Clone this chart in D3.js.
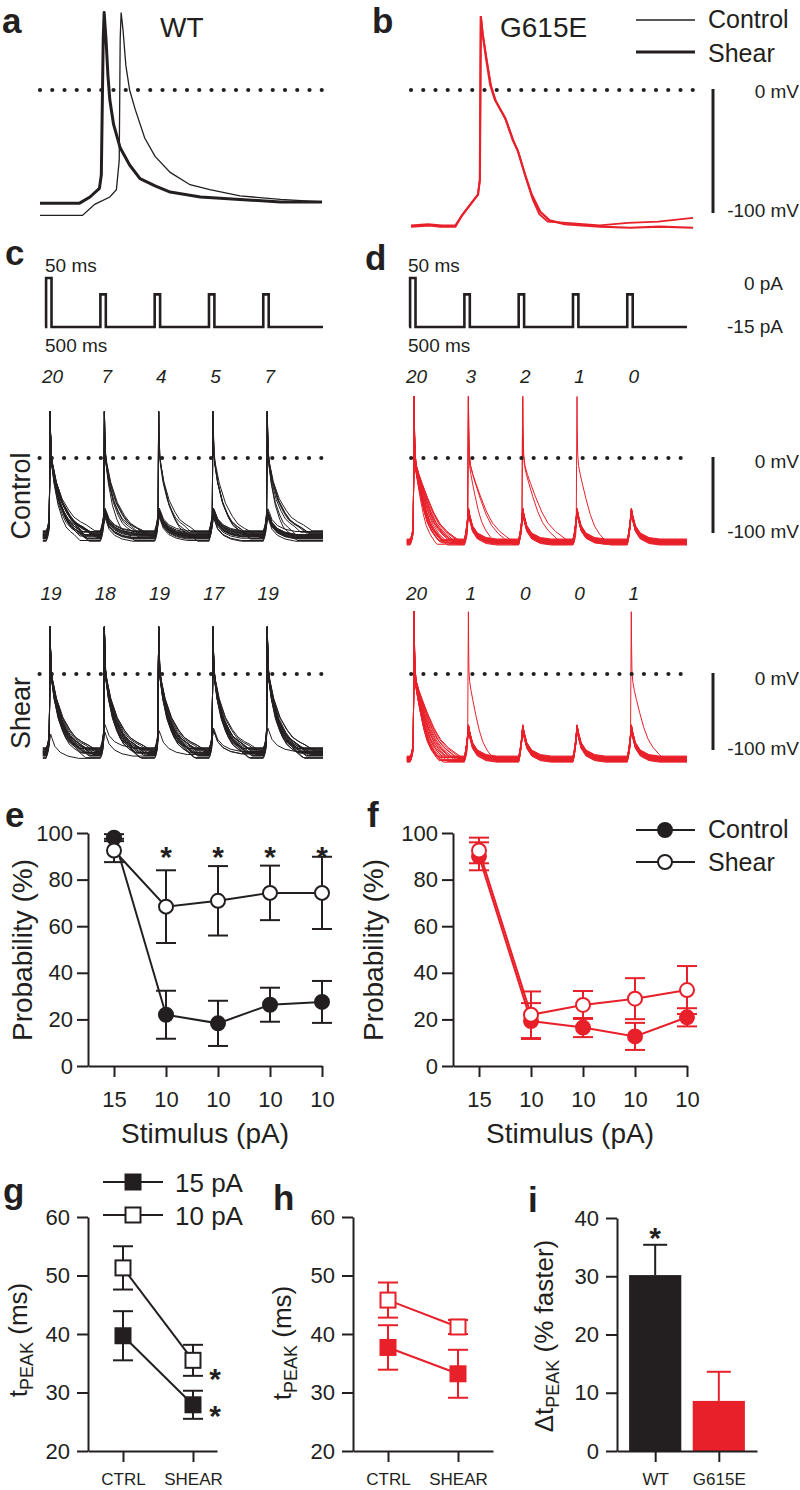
<!DOCTYPE html>
<html><head><meta charset="utf-8">
<script src="https://cdn.jsdelivr.net/npm/d3@7"></script>
<style>
body{margin:0;background:#fff;}
svg text{font-family:Arial,"Liberation Sans",Helvetica,sans-serif;fill:#231f20;}
</style></head><body>
<svg id="fig" width="800" height="1490"></svg>
<script>
// ================= DATA =================
// Panel a / b : single action potentials [time (ms), membrane potential (mV)]
const wtControlAP = [[0,-102],[45,-102],[58,-93],[74,-87],[81,-81],[84,-57],[85,41],[86,63],[88,49],[91,20],[95,0],[101,-16],[111,-39],[122,-54],[138,-67],[159,-77],[180,-81],[212,-86],[255,-89],[299,-91]];
const wtShearAP = [[0,-92],[42,-92],[53,-87],[63,-80],[65,-69],[67,41],[68,63],[70,41],[72,12],[74,-8],[78,-28],[85,-47],[95,-61],[106,-72],[122,-78],[138,-83],[170,-87],[212,-89],[255,-91],[299,-91]];
const mutShearAP = [[0,-111],[20,-110],[31,-111],[47,-111],[54,-102],[63,-93],[71,-85],[73,-73],[74,60],[76,45],[80,24],[84,4],[89,-8],[100,-23],[108,-41],[113,-49],[121,-69],[128,-85],[137,-99],[147,-106],[163,-109],[200,-111],[232,-112],[264,-111],[299,-112]];
const mutControlAP = [[0,-110],[18,-109],[33,-110],[47,-110],[55,-101],[64,-92],[71,-85],[73,-73],[74,60],[76,46],[80,26],[85,3],[90,-9],[101,-25],[109,-42],[114,-51],[122,-72],[129,-89],[136,-101],[145,-107],[165,-108],[200,-110],[230,-108],[262,-107],[299,-104]];

// Panel c / d : stimulation protocol
const pulseOnsets = [10, 510, 1010, 1510, 2010];   // ms
const pulseWidth = 50;                             // ms
const holdingCurrent = -15;                        // pA
const pulseSteps = [15, 10, 10, 10, 10];           // pA
const protocolEnd = 2560;                          // ms

// spikes fired per stimulus (out of 20 sweeps)
const wtCtrlCounts  = [20, 7, 4, 5, 7];
const wtShearCounts = [19, 18, 19, 17, 19];
const mutCtrlCounts = [20, 3, 2, 1, 0];
const mutShearCounts= [20, 1, 0, 0, 1];
// which sweeps fired at each stimulus
const wtCtrlFired  = [[0,1,2,3,4,5,6,7,8,9,10,11,12,13,14,15,16,17,18,19],[0,2,5,8,11,14,17],[1,6,12,18],[3,7,10,15,19],[0,4,9,11,13,16,18]];
const wtShearFired = [[0,1,2,3,4,5,6,8,9,10,11,12,13,14,15,16,17,18,19],[0,1,2,4,5,6,7,8,9,10,11,13,14,15,16,17,18,19],[0,1,2,3,4,5,6,7,8,10,11,12,13,14,15,16,17,18,19],[0,1,3,4,6,7,8,9,10,11,12,13,15,16,17,18,19],[0,1,2,3,4,5,6,7,8,9,10,11,12,13,14,15,17,18,19]];
const mutCtrlFired = [[0,1,2,3,4,5,6,7,8,9,10,11,12,13,14,15,16,17,18,19],[2,9,15],[4,11],[7],[]];
const mutShearFired= [[0,1,2,3,4,5,6,7,8,9,10,11,12,13,14,15,16,17,18,19],[6],[],[],[10]];

// waveform shapes read from the sweeps [ms after pulse onset, mV]
const wtSpikeShape = [[0,-104],[12,-100],[24,-92],[30,-80],[33,-20],[37,62],[40,35],[46,5],[55,-8],[83,-33],[129,-59],[180,-76],[221,-86],[270,-92],[313,-96],[380,-104]];
const wtBumpShape  = [[0,-104],[15,-96],[30,-84],[42,-73],[55,-78],[80,-88],[130,-96],[200,-101],[300,-104]];
const mutSpikeShape= [[0,-112],[12,-108],[24,-100],[30,-88],[33,-10],[37,82],[40,40],[45,5],[55,-10],[75,-22],[100,-34],[140,-52],[190,-72],[240,-87],[300,-98],[380,-108],[420,-112]];
const mutBumpShape = [[0,-112],[12,-104],[25,-90],[38,-70],[50,-80],[75,-94],[120,-104],[200,-110],[300,-112]];
// per-sweep baseline shift (mV) and decay stretch
const wtSweepOffset = [-6,-3,0,2,4,-1,6,-4,1,3,-2,5,-7,0,2,-3,7,-1,4,1];
const wtSweepDecay  = [0.8,1.0,1.2,0.9,1.1,1.3,0.85,1.0,0.95,1.15,1.25,0.9,1.05,0.8,1.1,1.0,1.2,0.9,1.05,0.95];
const mutSweepOffset= [-3,-1,0,2,1,-2,3,-4,1,2,-1,0,3,-2,1,-3,2,0,-1,4];
const mutSweepDecay = [0.55,0.7,1.1,0.6,0.9,1.2,0.65,0.8,1.0,0.6,0.75,1.15,0.7,0.85,0.6,1.05,0.7,0.95,0.65,0.8];

// Panel e / f : firing probability (%)
const stimCategories = ["15","10","10","10","10"];
const wtProbCtrl      = [98, 22, 18.3, 26.3, 27.5];
const wtProbCtrlSem   = [1.5, 10.3, 9.7, 7.3, 9.0];
const wtProbShear     = [92.5, 68.4, 70.9, 74.3, 74.3];
const wtProbShearSem  = [5.0, 15.6, 14.9, 11.7, 15.5];
const mutProbCtrl     = [90, 19.3, 16.5, 12.7, 20.9];
const mutProbCtrlSem  = [6, 7.7, 4.1, 5.8, 3.9];
const mutProbShear    = [92.5, 22, 26.2, 28.9, 32.6];
const mutProbShearSem = [5.5, 10, 6, 8.8, 10.3];
const wtProbSignificant = [false, true, true, true, true];

// Panel g / h : tPEAK (ms)
const conditionCats = ["CTRL","SHEAR"];
const wtTpeak15 = [39.7, 27.9];  const wtTpeak15Sem = [4.2, 2.4];
const wtTpeak10 = [51.3, 35.5];  const wtTpeak10Sem = [3.7, 2.65];
const mutTpeak15 = [37.7, 33.2]; const mutTpeak15Sem = [3.8, 4.1];
const mutTpeak10 = [45.8, 41.2]; const mutTpeak10Sem = [3.0, 1.2];
const wtTpeakSignificant = [false, true];

// Panel i : ΔtPEAK (% faster)
const genotypeCats = ["WT","G615E"];
const deltaTpeak = [30.2, 8.6];
const deltaTpeakSem = [5.2, 5.0];
const deltaSignificant = [true, false];

// ================= DRAWING =================
const INK = "#231f20", RED = "#e8202a";
const FONT = 'Arial, "Liberation Sans", Helvetica, sans-serif';
const svg = d3.select("#fig");

function text(x, y, s, fs, o = {}) {
  const t = svg.append("text").attr("x", x).attr("y", y).text(s).style("font-size", fs + "px");
  if (o.anchor) t.attr("text-anchor", o.anchor);
  if (o.bold) t.style("font-weight", "bold");
  if (o.italic) t.style("font-style", "italic");
  if (o.rotate) t.attr("x", null).attr("y", null).attr("transform", `translate(${x},${y}) rotate(-90)`);
  if (o.fill) t.style("fill", o.fill);
  return t;
}
function mkLine(xs, ys) { return d3.line().x(d => xs(d[0])).y(d => ys(d[1])); }
function dotted(xs, ys, t0, t1) {
  svg.append("path").attr("d", mkLine(xs, ys)([[t0, 0], [t1, 0]]))
    .attr("stroke", INK).attr("stroke-width", 4.2).attr("stroke-linecap", "round")
    .attr("stroke-dasharray", "0,12.25").attr("fill", "none");
}
function scaleBar(ys, x) {
  svg.append("line").attr("x1", x).attr("x2", x).attr("y1", ys(0) - 1).attr("y2", ys(-100))
    .attr("stroke", INK).attr("stroke-width", 3);
}

// panel letters
[["a",2,33],["b",372,33],["c",5,265],["d",365,270],["e",5,827],["f",367,827],["g",3,1203],["h",273,1210],["i",528,1212]]
  .forEach(([s,x,y]) => text(x, y, s, 35, {bold: true}));

// ---- a / b ----
const xA = d3.scaleLinear().domain([0, 300]).range([40, 323]);
const xB = d3.scaleLinear().domain([0, 300]).range([411, 694]);
const yA = d3.scaleLinear().domain([-100, 0]).range([213, 90]);
dotted(xA, yA, 0, 299);
dotted(xB, yA, 0, 299);
svg.append("path").attr("d", mkLine(xA, yA)(wtControlAP)).attr("fill","none").attr("stroke",INK).attr("stroke-width",1.3);
svg.append("path").attr("d", mkLine(xA, yA)(wtShearAP)).attr("fill","none").attr("stroke",INK).attr("stroke-width",3).attr("stroke-linejoin","round");
svg.append("path").attr("d", mkLine(xB, yA)(mutControlAP)).attr("fill","none").attr("stroke",RED).attr("stroke-width",1.8);
svg.append("path").attr("d", mkLine(xB, yA)(mutShearAP)).attr("fill","none").attr("stroke",RED).attr("stroke-width",2.2);
text(160, 37, "WT", 28);
text(500, 37, "G615E", 28);
svg.append("line").attr("x1",636).attr("x2",695).attr("y1",20).attr("y2",20).attr("stroke",INK).attr("stroke-width",1.3);
svg.append("line").attr("x1",636).attr("x2",695).attr("y1",52).attr("y2",52).attr("stroke",INK).attr("stroke-width",3);
text(708, 28, "Control", 25);
text(708, 62, "Shear", 25);
scaleBar(yA, 713);
text(799, 98, "0 mV", 19, {anchor: "end"});
text(799, 217, "-100 mV", 19, {anchor: "end"});

// ---- c / d protocol ----
const xC = d3.scaleLinear().domain([0, protocolEnd]).range([45, 323]);
const xD = d3.scaleLinear().domain([0, protocolEnd]).range([409, 687]);
const yStim = d3.scaleLinear().domain([-15, 0]).range([327, 278]);
function protocolPoints() {
  const p = [[0, holdingCurrent]];
  pulseOnsets.forEach((on, k) => {
    const lvl = holdingCurrent + pulseSteps[k];
    p.push([on, holdingCurrent], [on, lvl], [on + pulseWidth, lvl], [on + pulseWidth, holdingCurrent]);
  });
  p.push([protocolEnd, holdingCurrent]);
  return p;
}
[xC, xD].forEach(xs => {
  svg.append("path").attr("d", mkLine(xs, yStim)(protocolPoints())).attr("fill","none")
    .attr("stroke", INK).attr("stroke-width", 2.6).attr("stroke-linejoin","miter");
});
text(45, 272, "50 ms", 19); text(45, 352, "500 ms", 19);
text(408, 272, "50 ms", 19); text(408, 352, "500 ms", 19);
text(783, 290, "0 pA", 19, {anchor: "end"});
text(783, 333, "-15 pA", 19, {anchor: "end"});

// ---- sweeps ----
const yCtrl = d3.scaleLinear().domain([-100, 0]).range([533, 458]);
const yShear = d3.scaleLinear().domain([-100, 0]).range([750, 674]);
function buildSweep(idx, fired, spike, bump, offsets, decays) {
  const pkT = 37, off = offsets[idx], s = decays[idx];
  const w = v => Math.max(0, Math.min(1, (-v - 20) / 60));
  const base = spike[0][1];
  const pts = [[-20, base + off]];
  pulseOnsets.forEach((on, k) => {
    const fire = fired[k].includes(idx);
    (fire ? spike : bump).forEach(([dt, v]) => {
      const t = (fire && dt > pkT) ? pkT + (dt - pkT) * s : dt;
      pts.push([on + t, v + off * w(v)]);
    });
  });
  pts.push([protocolEnd, base + off]);
  return pts;
}
function drawSweeps(xs, ys, fired, spike, bump, offsets, decays, color) {
  const g = svg.append("g");
  d3.range(20).forEach(i => {
    g.append("path").attr("d", mkLine(xs, ys)(buildSweep(i, fired, spike, bump, offsets, decays)))
      .attr("fill","none").attr("stroke", color).attr("stroke-width", 1).attr("stroke-linejoin","round");
  });
}
drawSweeps(xC, yCtrl, wtCtrlFired, wtSpikeShape, wtBumpShape, wtSweepOffset, wtSweepDecay, INK);
drawSweeps(xC, yShear, wtShearFired, wtSpikeShape, wtBumpShape, wtSweepOffset.slice().reverse(), wtSweepDecay, INK);
drawSweeps(xD, yCtrl, mutCtrlFired, mutSpikeShape, mutBumpShape, mutSweepOffset, mutSweepDecay, RED);
drawSweeps(xD, yShear, mutShearFired, mutSpikeShape, mutBumpShape, mutSweepOffset.slice().reverse(), mutSweepDecay, RED);
dotted(xC, yCtrl, -50, 2560); dotted(xD, yCtrl, 20, 2580);
dotted(xC, yShear, -50, 2560); dotted(xD, yShear, 20, 2580);
// counts
pulseOnsets.forEach((on, k) => {
  text(xC(on + 60), 383, wtCtrlCounts[k], 19, {anchor: "middle", italic: true});
  text(xD(on + 60), 383, mutCtrlCounts[k], 19, {anchor: "middle", italic: true});
  text(xC(on + 45), 600, wtShearCounts[k], 19, {anchor: "middle", italic: true});
  text(xD(on + 60), 600, mutShearCounts[k], 19, {anchor: "middle", italic: true});
});
text(30, 496, "Control", 27, {anchor: "middle", rotate: true});
text(30, 713, "Shear", 27, {anchor: "middle", rotate: true});
scaleBar(yCtrl, 713); scaleBar(yShear, 713);
text(799, 468, "0 mV", 19, {anchor: "end"});
text(799, 538, "-100 mV", 19, {anchor: "end"});
text(799, 685, "0 mV", 19, {anchor: "end"});
text(799, 755, "-100 mV", 19, {anchor: "end"});

// ---- axes helper ----
function styleAxis(g, fs) {
  g.attr("font-family", FONT).attr("font-size", fs);
  g.select(".domain").attr("stroke", INK).attr("stroke-width", 2);
  g.selectAll(".tick line").attr("stroke", INK).attr("stroke-width", 2);
  g.selectAll(".tick text").attr("fill", INK);
}
function errorBars(xs, ys, means, sems, color, cap) {
  means.forEach((m, i) => {
    const x = xs(i);
    svg.append("line").attr("x1", x).attr("x2", x).attr("y1", ys(m - sems[i])).attr("y2", ys(m + sems[i])).attr("stroke", color).attr("stroke-width", 2);
    [m - sems[i], m + sems[i]].forEach(v => svg.append("line").attr("x1", x - cap / 2).attr("x2", x + cap / 2).attr("y1", ys(v)).attr("y2", ys(v)).attr("stroke", color).attr("stroke-width", 2));
  });
}
function series(xs, ys, means, sems, color, open, shape) {
  svg.append("path").attr("d", d3.line().x((d, i) => xs(i)).y(d => ys(d))(means)).attr("fill","none").attr("stroke", color).attr("stroke-width", 2);
  errorBars(xs, ys, means, sems, color, 20);
  means.forEach((m, i) => {
    if (shape === "circle") {
      svg.append("circle").attr("cx", xs(i)).attr("cy", ys(m)).attr("r", 7).attr("fill", open ? "#fff" : color).attr("stroke", color).attr("stroke-width", 2);
    } else {
      svg.append("rect").attr("x", xs(i) - 7.5).attr("y", ys(m) - 7.5).attr("width", 15).attr("height", 15).attr("fill", open ? "#fff" : color).attr("stroke", color).attr("stroke-width", 2);
    }
  });
}

// ---- e / f ----
const yP = d3.scaleLinear().domain([0, 100]).range([1066, 833]);
const xE = d3.scaleLinear().domain([-0.5, 4]).range([88, 322]);
const xF = d3.scaleLinear().domain([-0.5, 4]).range([453, 687]);
[[xE, 88], [xF, 453]].forEach(([xs, x0]) => {
  styleAxis(svg.append("g").attr("transform", `translate(${x0},0)`)
    .call(d3.axisLeft(yP).tickValues([0,20,40,60,80,100]).tickSize(11).tickSizeOuter(0).tickPadding(4)), 22);
  styleAxis(svg.append("g").attr("transform", `translate(0,1066)`)
    .call(d3.axisBottom(xs).tickValues([0,1,2,3,4]).tickFormat(i => stimCategories[i]).tickSize(11).tickSizeOuter(0).tickPadding(14)), 22);
});
series(xE, yP, wtProbCtrl, wtProbCtrlSem, INK, false, "circle");
series(xE, yP, wtProbShear, wtProbShearSem, INK, true, "circle");
series(xF, yP, mutProbCtrl, mutProbCtrlSem, RED, false, "circle");
series(xF, yP, mutProbShear, mutProbShearSem, RED, true, "circle");
wtProbSignificant.forEach((s, i) => { if (s) text(xE(i), yP(100) + 34, "*", 30, {anchor: "middle", bold: true}); });
text(32, 950, "Probability (%)", 28, {anchor: "middle", rotate: true});
text(383, 950, "Probability (%)", 28, {anchor: "middle", rotate: true});
text(205, 1143, "Stimulus (pA)", 28, {anchor: "middle"});
text(570, 1143, "Stimulus (pA)", 28, {anchor: "middle"});
// legend f
svg.append("line").attr("x1",636).attr("x2",695).attr("y1",830).attr("y2",830).attr("stroke",INK).attr("stroke-width",2);
svg.append("circle").attr("cx",665).attr("cy",830).attr("r",7).attr("fill",INK).attr("stroke",INK).attr("stroke-width",2);
svg.append("line").attr("x1",636).attr("x2",695).attr("y1",862).attr("y2",862).attr("stroke",INK).attr("stroke-width",2);
svg.append("circle").attr("cx",665).attr("cy",862).attr("r",7).attr("fill","#fff").attr("stroke",INK).attr("stroke-width",2);
text(708, 838, "Control", 25);
text(708, 871, "Shear", 25);

// ---- g / h ----
const yT = d3.scaleLinear().domain([20, 60]).range([1451, 1217]);
const xG = d3.scaleLinear().domain([-0.5, 1.343]).range([88, 217]);
const xH = d3.scaleLinear().domain([-0.5, 1.5]).range([353, 493]);
[[xG, 88], [xH, 353]].forEach(([xs, x0]) => {
  styleAxis(svg.append("g").attr("transform", `translate(${x0},0)`)
    .call(d3.axisLeft(yT).tickValues([20,30,40,50,60]).tickSize(11).tickSizeOuter(0).tickPadding(7)), 22);
  styleAxis(svg.append("g").attr("transform", `translate(0,1451)`)
    .call(d3.axisBottom(xs).tickValues([0,1]).tickFormat(i => conditionCats[i]).tickSize(11).tickSizeOuter(0).tickPadding(11)), 17);
});
series(xG, yT, wtTpeak15, wtTpeak15Sem, INK, false, "square");
series(xG, yT, wtTpeak10, wtTpeak10Sem, INK, true, "square");
series(xH, yT, mutTpeak15, mutTpeak15Sem, RED, false, "square");
series(xH, yT, mutTpeak10, mutTpeak10Sem, RED, true, "square");
[[wtTpeak10, 12], [wtTpeak15, 4]].forEach(([m, dy]) => {
  if (wtTpeakSignificant[1]) text(xG(1) + 22, yT(m[1]) + dy + 17, "*", 30, {anchor: "middle", bold: true});
});
// legend g
svg.append("line").attr("x1",103).attr("x2",163).attr("y1",1182).attr("y2",1182).attr("stroke",INK).attr("stroke-width",2);
svg.append("rect").attr("x",125.5).attr("y",1174.5).attr("width",15).attr("height",15).attr("fill",INK).attr("stroke",INK).attr("stroke-width",2);
svg.append("line").attr("x1",103).attr("x2",163).attr("y1",1215).attr("y2",1215).attr("stroke",INK).attr("stroke-width",2);
svg.append("rect").attr("x",125.5).attr("y",1207.5).attr("width",15).attr("height",15).attr("fill","#fff").attr("stroke",INK).attr("stroke-width",2);
text(175, 1192, "15 pA", 26);
text(175, 1225, "10 pA", 26);
function tpeakLabel(x, y, prefix, suffix, fs) {
  const t = svg.append("text").attr("transform", `translate(${x},${y}) rotate(-90)`).attr("text-anchor","middle").style("font-size", fs + "px");
  t.append("tspan").text(prefix);
  t.append("tspan").attr("dy", 6).style("font-size", "18px").text("PEAK");
  t.append("tspan").attr("dy", -6).text(suffix);
}
tpeakLabel(27, 1340, "t", " (ms)", 26);
tpeakLabel(291, 1343, "t", " (ms)", 26);

// ---- i ----
const yI = d3.scaleLinear().domain([0, 40]).range([1451, 1218]);
const xI = d3.scaleLinear().domain([-0.6, 1.6]).range([617, 757]);
const barColors = [INK, RED];
deltaTpeak.forEach((v, i) => {
  const x = xI(i);
  svg.append("line").attr("x1", x).attr("x2", x).attr("y1", yI(v)).attr("y2", yI(v + deltaTpeakSem[i])).attr("stroke", barColors[i]).attr("stroke-width", 2);
  svg.append("line").attr("x1", x - 12).attr("x2", x + 12).attr("y1", yI(v + deltaTpeakSem[i])).attr("y2", yI(v + deltaTpeakSem[i])).attr("stroke", barColors[i]).attr("stroke-width", 2);
  svg.append("rect").attr("x", xI(i - 0.41)).attr("y", yI(v)).attr("width", xI(i + 0.41) - xI(i - 0.41)).attr("height", yI(0) - yI(v)).attr("fill", barColors[i]);
  if (deltaSignificant[i]) text(x, yI(v + deltaTpeakSem[i]) + 3, "*", 30, {anchor: "middle", bold: true});
});
styleAxis(svg.append("g").attr("transform", `translate(617,0)`)
  .call(d3.axisLeft(yI).tickValues([0,10,20,30,40]).tickSize(11).tickSizeOuter(0).tickPadding(7)), 22);
styleAxis(svg.append("g").attr("transform", `translate(0,1451)`)
  .call(d3.axisBottom(xI).tickValues([0,1]).tickFormat(i => genotypeCats[i]).tickSize(11).tickSizeOuter(0).tickPadding(11)), 17);
tpeakLabel(553, 1336, "Δt", " (% faster)", 26);
</script>
</body></html>
